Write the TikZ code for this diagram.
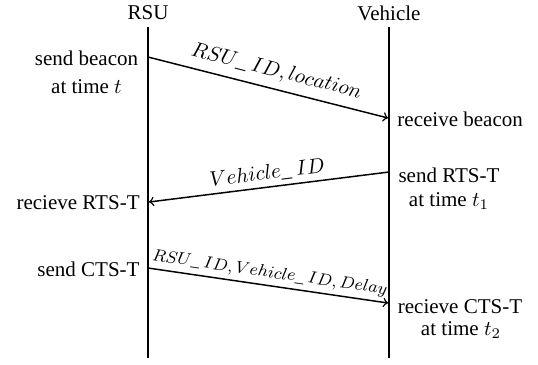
\documentclass[tikz,border=0pt]{standalone}
\usepackage[no-math]{fontspec}
\setmainfont{Liberation Serif}
\begin{document}
\begin{tikzpicture}[x=0.016729cm,y=-0.016729cm,
  lifeline/.style={line width=1pt},
  msg/.style={->,line width=0.7pt},
  lbl/.style={inner sep=0pt,font=\normalsize}]
\useasboundingbox (0,0) rectangle (538,364);
% headers
\node[lbl] (rsu) at (148,13) {RSU};
\node[lbl] (veh) at (389,13) {Vehicle};
% lifelines
\coordinate (rsuTop) at (148,27);
\coordinate (rsuBot) at (148,358);
\coordinate (vehTop) at (389,27);
\coordinate (vehBot) at (389,358);
\draw[lifeline] (rsuTop) -- (rsuBot);
\draw[lifeline] (vehTop) -- (vehBot);
% message endpoints
\coordinate (m1s) at (148,57);
\coordinate (m1e) at (388,118);
\coordinate (m2s) at (389,172);
\coordinate (m2e) at (149,202);
\coordinate (m3s) at (148,268);
\coordinate (m3e) at (388,303);
\draw[msg] (m1s) -- node[sloped,above,inner sep=3.5pt,xshift=2pt] (l1) {$RSU\_\:ID, location$} (m1e);
\draw[msg] (m2s) -- node[sloped,above,inner sep=2pt] (l2) {$Vehicle\_\:ID$} (m2e);
\draw[msg] (m3s) -- node[sloped,above,inner sep=2pt,font=\fontsize{8.2}{10}\selectfont] (l3) {$RSU\_\:ID, Vehicle\_\:ID, Delay$} (m3e);
% left texts
\node[lbl] (sb) at (86.5,58) {send beacon};
\node[lbl] (sbt) at (86.5,87) {at time $t$};
\node[lbl,anchor=east] (rr) at (140,203) {recieve RTS-T};
\node[lbl,anchor=east] (sc) at (140,269) {send CTS-T};
% right texts
\node[lbl,anchor=west] (rb) at (397,119) {receive beacon};
\node[lbl] (sr) at (449,175) {send RTS-T};
\node[lbl] (srt) at (449,201) {at time $t_1$};
\node[lbl] (rc) at (460,307) {recieve CTS-T};
\node[lbl] (rct) at (461,330) {at time $t_2$};
\end{tikzpicture}
\end{document}
